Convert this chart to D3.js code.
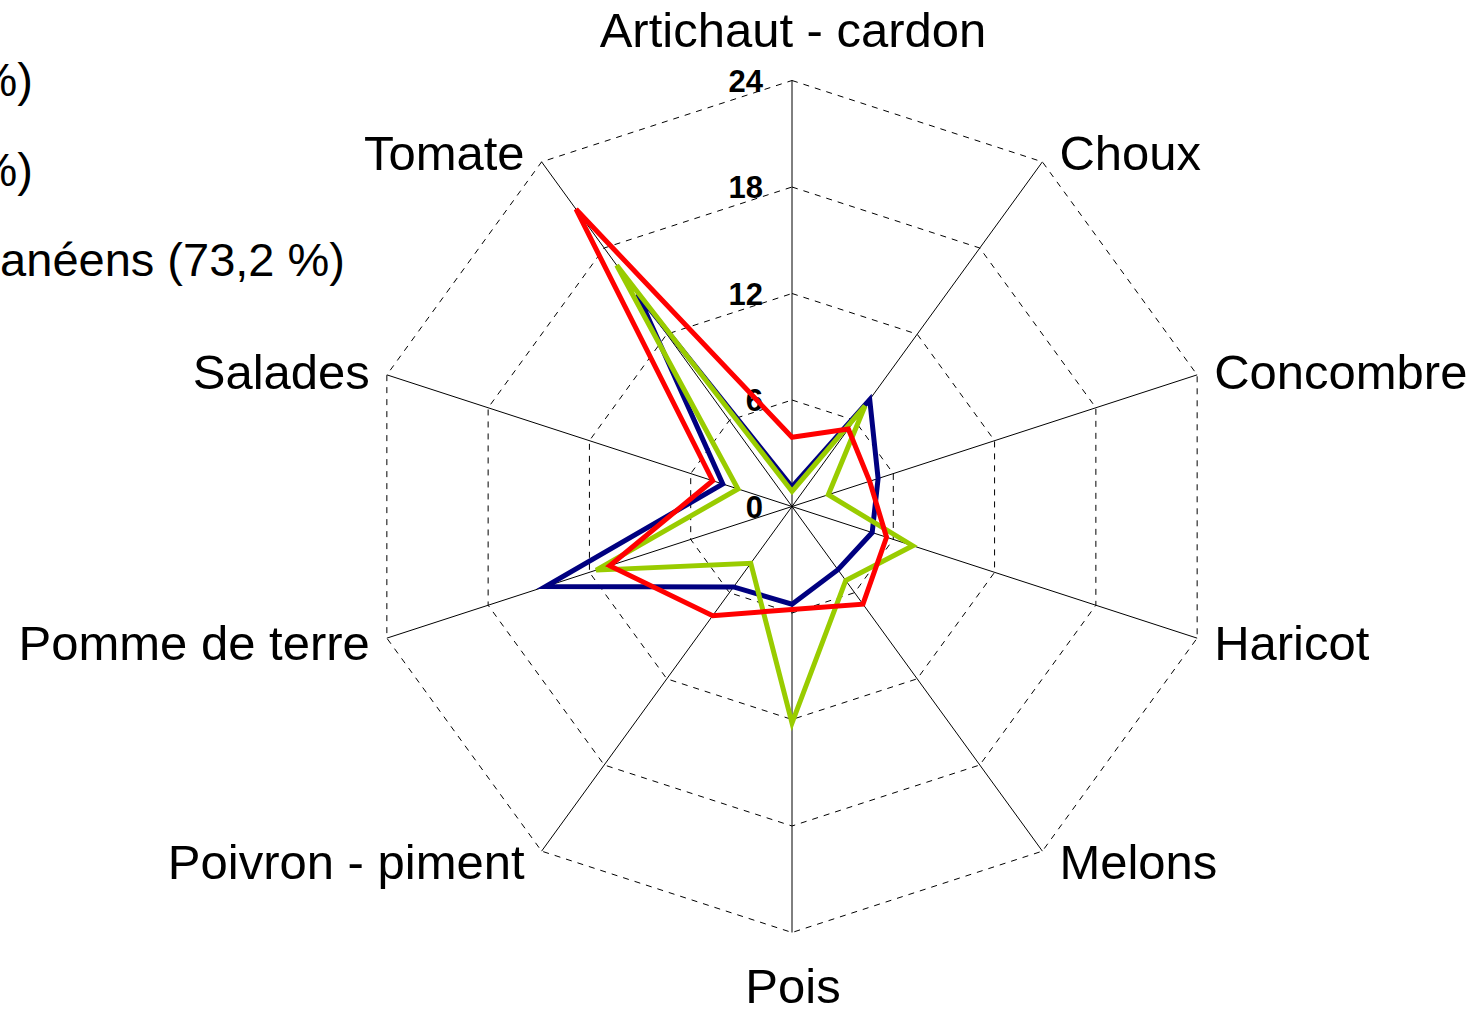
<!DOCTYPE html>
<html>
<head>
<meta charset="utf-8">
<script src="https://cdn.jsdelivr.net/npm/d3@7"></script>
<style>
  html, body { margin: 0; padding: 0; background: #fff; overflow: hidden; }
  text { font-family: "Liberation Sans", Arial, sans-serif; }
</style>
</head>
<body>
<svg id="chart" width="1480" height="1016"></svg>
<script>
const categories = ["Artichaut - cardon", "Choux", "Concombre", "Haricot", "Melons",
  "Pois", "Poivron - piment", "Pomme de terre", "Salades", "Tomate"];
const seriesNames = ["%)", "%)", "anéens (73,2 %)"];
const seriesA = [1.1, 7.45, 5.1, 4.75, 4.4, 5.5, 5.6, 14.6, 4.1, 14.8];
const seriesB = [0.85, 7.0, 2.15, 7.15, 5.15, 12.2, 3.95, 11.6, 3.2, 16.8];
const seriesC = [3.9, 5.4, 4.6, 5.6, 6.8, 5.8, 7.6, 10.8, 4.7, 20.7];
const tickValues = [0, 6, 12, 18, 24];
const colors = ["#000080", "#99CC00", "#FF0000"];

const svg = d3.select("#chart");
const cx = 792, cy = 506.5, R = 426;
const n = categories.length;
const angle = d3.scaleLinear().domain([0, n]).range([0, 2 * Math.PI]);
const r = d3.scaleLinear().domain([0, 24]).range([0, R]);
const g = svg.append("g").attr("transform", `translate(${cx},${cy})`);

// rings (dashed polygons)
const ringLine = d3.lineRadial().angle((d, i) => angle(i)).radius(d => r(d)).curve(d3.curveLinearClosed);
tickValues.filter(v => v > 0).forEach(v => {
  g.append("path")
    .attr("d", ringLine(categories.map(() => v)))
    .attr("fill", "none").attr("stroke", "#000").attr("stroke-width", 1)
    .attr("stroke-dasharray", "6,6");
});

// axes
categories.forEach((c, i) => {
  const a = angle(i);
  g.append("line")
    .attr("x1", 0).attr("y1", 0)
    .attr("x2", r(24) * Math.sin(a)).attr("y2", -r(24) * Math.cos(a))
    .attr("stroke", "#000").attr("stroke-width", 1);
});

// tick labels
tickValues.forEach(v => {
  g.append("text")
    .attr("x", -29).attr("y", -r(v))
    .attr("dy", "0.36em")
    .attr("text-anchor", "end")
    .attr("font-size", 31).attr("font-weight", "bold")
    .text(v);
});

// category labels
categories.forEach((c, i) => {
  const a = angle(i);
  const ex = r(24) * Math.sin(a), ey = -r(24) * Math.cos(a);
  const s = Math.sin(a), co = Math.cos(a);
  const t = g.append("text").attr("font-size", 49).text(c);
  if (Math.abs(s) < 0.01) {
    t.attr("text-anchor", "middle").attr("x", ex + 1)
     .attr("y", co > 0 ? ey - 34 : ey + 70);
  } else {
    t.attr("text-anchor", s > 0 ? "start" : "end")
     .attr("x", ex + (s > 0 ? 17 : -17))
     .attr("y", ey - 12 * co + 1)
     .attr("dy", "0.35em");
  }
});

// series
const radarLine = d3.lineRadial().angle((d, i) => angle(i)).radius(d => r(d)).curve(d3.curveLinearClosed);
[seriesA, seriesB, seriesC].forEach((s, k) => {
  g.append("path")
    .attr("d", radarLine(s))
    .attr("fill", "none").attr("stroke", colors[k])
    .attr("stroke-width", 5).attr("stroke-linejoin", "miter");
});

// legend (clipped by the left edge in the reference)
const legendY = [80, 170, 260];
const legendX = [33, 33, 345];
seriesNames.forEach((nm, k) => {
  svg.append("text")
    .attr("x", legendX[k]).attr("y", legendY[k]).attr("dy", "0.35em")
    .attr("text-anchor", "end").attr("font-size", 47).text(nm);
});
</script>
</body>
</html>
